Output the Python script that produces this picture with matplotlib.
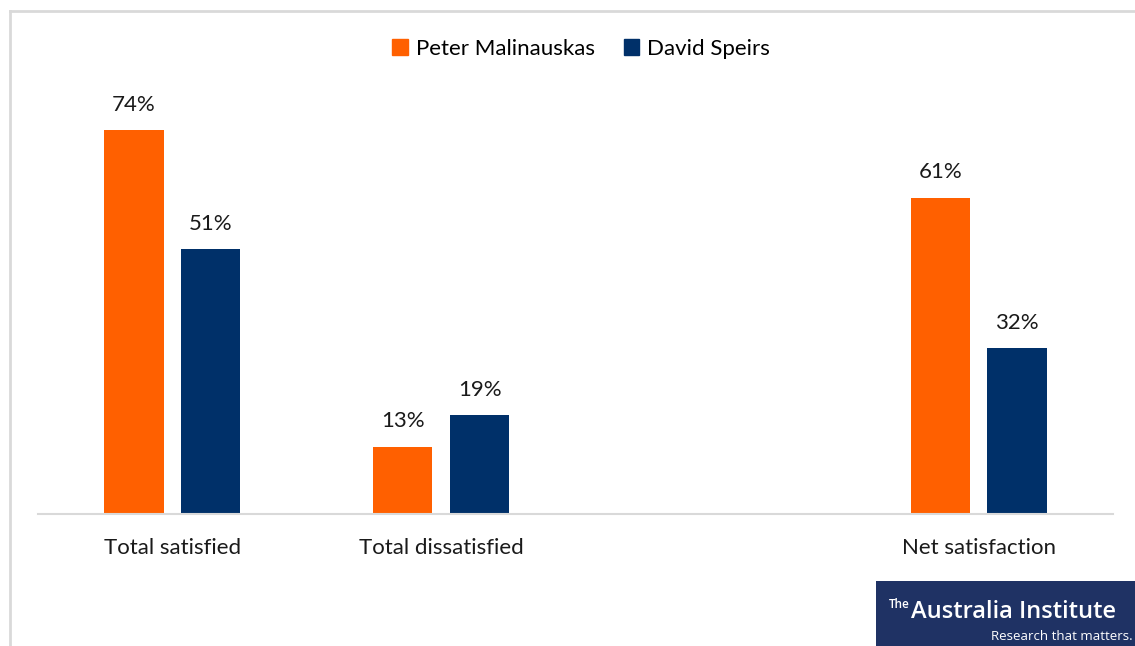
import matplotlib
matplotlib.use("Agg")
import matplotlib.pyplot as plt
from matplotlib.patches import Rectangle, Patch
import numpy as np

categories = ["Total satisfied", "Total dissatisfied", "", "Net satisfaction"]
series_names = ["Peter Malinauskas", "David Speirs"]
malinauskas = [74, 13, None, 61]
speirs = [51, 19, None, 32]
colors = ["#FF6000", "#003069"]

plt.rcParams['font.family'] = ['Lato', 'DejaVu Sans']

W, H = 1135, 646
fig = plt.figure(figsize=(W / 100, H / 100), dpi=100)
fig.patch.set_facecolor("white")

# chart border (top and left)
fig.add_artist(plt.Line2D([9.5 / W, 9.5 / W], [0, 1 - 11 / H], color="#d9d9d9", lw=2, transform=fig.transFigure))
fig.add_artist(plt.Line2D([9.5 / W, 1], [1 - 11 / H, 1 - 11 / H], color="#d9d9d9", lw=2, transform=fig.transFigure))

ax = fig.add_axes([38 / W, (H - 514) / H, 1075 / W, 415 / H])
x = np.arange(len(categories))
bw = 0.22
off = 0.143
for vals, sign, col, name in [(malinauskas, -1, colors[0], series_names[0]), (speirs, 1, colors[1], series_names[1])]:
    xs = [xi + sign * off for xi, v in zip(x, vals) if v is not None]
    vs = [v for v in vals if v is not None]
    bars = ax.bar(xs, vs, width=bw, color=col, label=name)
    for b, v in zip(bars, vs):
        ax.annotate(f"{v}%", (b.get_x() + b.get_width() / 2, v), xytext=(0, 11),
                    textcoords="offset points", ha="center", va="bottom", fontsize=16, color="#1a1a1a")

ax.set_xlim(-0.5, len(categories) - 0.5)
ax.set_ylim(0, 80)
ax.set_xticks(x)
ax.set_xticklabels(categories, fontsize=16, color="#1a1a1a")
ax.tick_params(axis="x", length=0, pad=17)
ax.set_yticks([])
for s in ["top", "right", "left"]:
    ax.spines[s].set_visible(False)
ax.spines["bottom"].set_color("#d9d9d9")
ax.spines["bottom"].set_linewidth(1.5)

handles = [Patch(color=c, label=n) for c, n in zip(colors, series_names)]
fig.legend(handles=handles, loc="center", bbox_to_anchor=(581 / W, 1 - 49 / H), ncol=2,
           frameon=False, fontsize=16, handlelength=0.7, handleheight=0.7, handletextpad=0.35,
           columnspacing=1.3)

# logo
fig.add_artist(Rectangle((876 / W, 0), (W - 876) / W, 65 / H, transform=fig.transFigure,
                         facecolor="#1f3264", edgecolor="none"))
fig.text(889 / W, 1 - 608 / H, "The", color="white", fontsize=8.5, ha="left", va="baseline",
         family=["Open Sans"], fontweight="semibold")
fig.text(911 / W, 1 - 618 / H, "Australia Institute", color="white", fontsize=17, ha="left", va="baseline",
         family=["Open Sans"], fontweight="semibold")
fig.text(1133 / W, 1 - 640 / H, "Research that matters.", color="white", fontsize=9.5, ha="right", va="baseline",
         family=["Open Sans"])

fig.savefig("out.png", dpi=100)
